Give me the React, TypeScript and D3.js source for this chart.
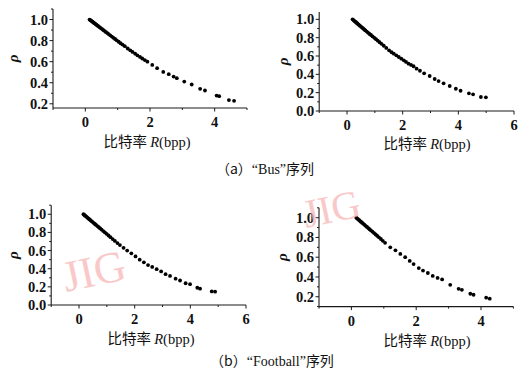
import { useMemo } from "react"
import * as d3 from "d3"

// "Bus" sequence, left panel
const busLeftR = [
  0.13, 0.16, 0.19, 0.22, 0.25, 0.28, 0.31, 0.34, 0.37, 0.4, 0.44, 0.48, 0.52, 0.56, 0.6, 0.64, 0.68, 0.72,
  0.77, 0.82, 0.87, 0.92, 0.97, 1.03, 1.09, 1.15, 1.22, 1.31, 1.39, 1.46, 1.54, 1.61, 1.69, 1.76, 1.84, 1.92,
  2.07, 2.22, 2.41, 2.58, 2.73, 2.83, 3.06, 3.29, 3.55, 3.7, 4.06, 4.14, 4.44, 4.6,
]
const busLeftRho = [
  1.0, 0.993, 0.986, 0.979, 0.972, 0.965, 0.958, 0.951, 0.944, 0.937, 0.927, 0.918, 0.909, 0.899, 0.89, 0.88,
  0.871, 0.862, 0.85, 0.838, 0.826, 0.815, 0.803, 0.789, 0.775, 0.762, 0.747, 0.725, 0.708, 0.692, 0.676, 0.66,
  0.645, 0.63, 0.615, 0.6, 0.569, 0.538, 0.503, 0.481, 0.458, 0.443, 0.411, 0.383, 0.342, 0.326, 0.278, 0.272,
  0.235, 0.228,
]

// "Bus" sequence, right panel
const busRightR = [
  0.2, 0.23, 0.26, 0.29, 0.32, 0.35, 0.38, 0.42, 0.46, 0.5, 0.54, 0.58, 0.62, 0.66, 0.71, 0.76, 0.81, 0.86, 0.92,
  0.98, 1.04, 1.1, 1.17, 1.24, 1.32, 1.41, 1.51, 1.6, 1.68, 1.77, 1.86, 1.95, 2.04, 2.12, 2.21, 2.3, 2.39, 2.5,
  2.62, 2.77, 2.97, 3.15, 3.29, 3.47, 3.69, 3.91, 4.08, 4.38, 4.53, 4.81, 4.99,
]
const busRightRho = [
  1.0, 0.992, 0.984, 0.976, 0.968, 0.96, 0.952, 0.942, 0.931, 0.921, 0.91, 0.9, 0.889, 0.879, 0.866, 0.853,
  0.84, 0.829, 0.813, 0.798, 0.783, 0.768, 0.75, 0.733, 0.712, 0.688, 0.662, 0.641, 0.625, 0.607, 0.589, 0.571,
  0.553, 0.535, 0.516, 0.503, 0.488, 0.462, 0.439, 0.411, 0.382, 0.349, 0.327, 0.302, 0.273, 0.243, 0.221,
  0.193, 0.182, 0.153, 0.149,
]

// "Football" sequence, left panel
const footballLeftR = [
  0.16, 0.19, 0.22, 0.25, 0.28, 0.31, 0.34, 0.37, 0.41, 0.45, 0.49, 0.53, 0.57, 0.61, 0.66, 0.71, 0.76, 0.81,
  0.87, 0.93, 0.99, 1.06, 1.13, 1.21, 1.29, 1.38, 1.47, 1.6, 1.73, 1.88, 2.03, 2.18, 2.33, 2.48, 2.63, 2.79,
  2.95, 3.11, 3.27, 3.47, 3.63, 3.83, 3.99, 4.25, 4.35, 4.77, 4.89,
]
const footballLeftRho = [
  1.0, 0.992, 0.984, 0.977, 0.969, 0.961, 0.953, 0.945, 0.935, 0.924, 0.914, 0.903, 0.893, 0.883, 0.87, 0.857,
  0.844, 0.831, 0.815, 0.8, 0.784, 0.766, 0.748, 0.727, 0.706, 0.683, 0.66, 0.63, 0.6, 0.57, 0.535, 0.5, 0.47,
  0.44, 0.42, 0.395, 0.37, 0.34, 0.32, 0.29, 0.27, 0.24, 0.23, 0.19, 0.18, 0.15, 0.147,
]

// "Football" sequence, right panel
const footballRightR = [
  0.15, 0.18, 0.21, 0.24, 0.27, 0.3, 0.33, 0.36, 0.4, 0.44, 0.48, 0.52, 0.56, 0.6, 0.65, 0.7, 0.75, 0.8, 0.85,
  0.91, 0.97, 1.04, 1.2, 1.36, 1.51, 1.66, 1.8, 1.92, 2.08, 2.21, 2.36, 2.51, 2.66, 2.8, 3.05, 3.31, 3.41, 3.67,
  3.77, 4.16, 4.27,
]
const footballRightRho = [
  1.0, 0.991, 0.983, 0.975, 0.966, 0.957, 0.949, 0.94, 0.929, 0.918, 0.906, 0.895, 0.883, 0.872, 0.858, 0.844,
  0.83, 0.815, 0.801, 0.784, 0.766, 0.745, 0.7, 0.67, 0.633, 0.6, 0.562, 0.53, 0.49, 0.465, 0.44, 0.41, 0.39,
  0.375, 0.32, 0.28, 0.27, 0.23, 0.22, 0.19, 0.18,
]

const ticksX5 = [0, 2, 4]
const ticksX6 = [0, 2, 4, 6]
const ticksY02 = [0.2, 0.4, 0.6, 0.8, 1.0]
const ticksY00 = [0.0, 0.2, 0.4, 0.6, 0.8, 1.0]

const captionA = ["（a）", "“Bus”", "序列"]
const captionB = ["（b）", "“Football”", "序列"]

const serif = "'Liberation Serif', 'DejaVu Serif', serif"
const cjk = "'Noto Sans CJK SC', sans-serif"

interface PanelProps {
  rs: number[]
  rhos: number[]
  xDomain: [number, number]
  xRange: [number, number]
  yDomain: [number, number]
  yRange: [number, number]
  xTicks: number[]
  yTicks: number[]
  titleX: number
  titleY: number
  rhoX: number
}

function Panel({ rs, rhos, xDomain, xRange, yDomain, yRange, xTicks, yTicks, titleX, titleY, rhoX }: PanelProps) {
  const x = useMemo(() => d3.scaleLinear().domain(xDomain).range(xRange), [xDomain, xRange])
  const y = useMemo(() => d3.scaleLinear().domain(yDomain).range(yRange), [yDomain, yRange])

  const xMinor = d3.range(Math.ceil(xDomain[0]), xDomain[1] + 0.001, 1).filter((v) => !xTicks.includes(v))
  const yMinor = d3
    .range(Math.ceil(yDomain[0] * 10), Math.floor(yDomain[1] * 10) + 1)
    .map((v) => v / 10)
    .filter((v) => !yTicks.some((t) => Math.abs(t - v) < 1e-6))

  const x0 = xRange[0]
  const yb = yRange[0]
  const axisColor = "#1a1a1a"

  return (
    <g>
      {/* axes */}
      <line x1={x0} x2={xRange[1]} y1={yb} y2={yb} stroke={axisColor} strokeWidth={1.1} />
      <line x1={x0} x2={x0} y1={yRange[1]} y2={yb} stroke={axisColor} strokeWidth={1.1} />

      {xTicks.map((t) => (
        <g key={"xt" + t}>
          <line x1={x(t)} x2={x(t)} y1={yb} y2={yb + 3.5} stroke={axisColor} />
          <text
            x={x(t)}
            y={yb + 19}
            textAnchor="middle"
            fontFamily={serif}
            fontWeight="bold"
            fontSize={14.5}
            fill="#111"
          >
            {t}
          </text>
        </g>
      ))}
      {xMinor.map((t) => (
        <line key={"xm" + t} x1={x(t)} x2={x(t)} y1={yb} y2={yb + 2} stroke={axisColor} />
      ))}

      {yTicks.map((t) => (
        <g key={"yt" + t}>
          <line x1={x0 - 3.5} x2={x0} y1={y(t)} y2={y(t)} stroke={axisColor} />
          <text
            x={x0 - 5}
            y={y(t) + 5}
            textAnchor="end"
            fontFamily={serif}
            fontWeight="bold"
            fontSize={14.5}
            fill="#111"
          >
            {t.toFixed(1)}
          </text>
        </g>
      ))}
      {yMinor.map((t) => (
        <line key={"ym" + t} x1={x0 - 2} x2={x0} y1={y(t)} y2={y(t)} stroke={axisColor} />
      ))}

      {/* rho label */}
      <text
        transform={`translate(${rhoX}, ${(yRange[0] + yRange[1]) / 2}) rotate(-90)`}
        textAnchor="middle"
        fontFamily={serif}
        fontStyle="italic"
        fontWeight="bold"
        fontSize={15}
        fill="#111"
      >
        ρ
      </text>

      {/* x title */}
      <text x={titleX} y={titleY} textAnchor="middle" fontSize={14.5} fill="#111">
        <tspan fontFamily={cjk}>比特率 </tspan>
        <tspan fontFamily={serif} fontStyle="italic">
          R
        </tspan>
        <tspan fontFamily={serif}>(bpp)</tspan>
      </text>

      {/* points */}
      {rs.map((r, i) => (
        <circle key={i} cx={x(r)} cy={y(rhos[i])} r={1.9} fill="#000" />
      ))}
    </g>
  )
}

function Caption({ parts, cx, cy }: { parts: string[]; cx: number; cy: number }) {
  return (
    <text x={cx} y={cy} textAnchor="middle" fontSize={14} fill="#111">
      <tspan fontFamily={cjk}>{parts[0]}</tspan>
      <tspan fontFamily={serif}>{parts[1]}</tspan>
      <tspan fontFamily={cjk}>{parts[2]}</tspan>
    </text>
  )
}

export default function App() {
  return (
    <div style={{ position: "absolute", left: 0, top: 0 }}>
      <svg width={524} height={380} style={{ display: "block", background: "#fff" }}>
        <Panel
          rs={busLeftR}
          rhos={busLeftRho}
          xDomain={[-1, 5]}
          xRange={[53, 247]}
          yDomain={[0.16, 1.1]}
          yRange={[108, 9]}
          xTicks={ticksX5}
          yTicks={ticksY02}
          titleX={147}
          titleY={147}
          rhoX={18}
        />
        <Panel
          rs={busRightR}
          rhos={busRightRho}
          xDomain={[-1, 6]}
          xRange={[319.2, 514]}
          yDomain={[0, 1.08]}
          yRange={[111, 12]}
          xTicks={ticksX6}
          yTicks={ticksY00}
          titleX={427}
          titleY={149}
          rhoX={288}
        />
        <Panel
          rs={footballLeftR}
          rhos={footballLeftRho}
          xDomain={[-1, 6]}
          xRange={[51.2, 246]}
          yDomain={[0, 1.1]}
          yRange={[305, 205.2]}
          xTicks={ticksX6}
          yTicks={ticksY00}
          titleX={151}
          titleY={344}
          rhoX={18}
        />
        <Panel
          rs={footballRightR}
          rhos={footballRightRho}
          xDomain={[-1, 5]}
          xRange={[319, 513.4]}
          yDomain={[0.1, 1.1]}
          yRange={[306.6, 207.8]}
          xTicks={ticksX5}
          yTicks={ticksY02}
          titleX={427}
          titleY={346}
          rhoX={287}
        />

        <Caption parts={captionA} cx={265} cy={174} />
        <Caption parts={captionB} cx={272} cy={366} />

        {/* watermarks */}
        <text
          transform="translate(66, 292) rotate(-12)"
          fontFamily={serif}
          fontSize={44}
          fill="#f7b8b8"
          opacity={0.75}
        >
          JIG
        </text>
        <text
          transform="translate(306, 228) rotate(-12)"
          fontFamily={serif}
          fontSize={40}
          fill="#f7b8b8"
          opacity={0.75}
        >
          JIG
        </text>
      </svg>
    </div>
  )
}
